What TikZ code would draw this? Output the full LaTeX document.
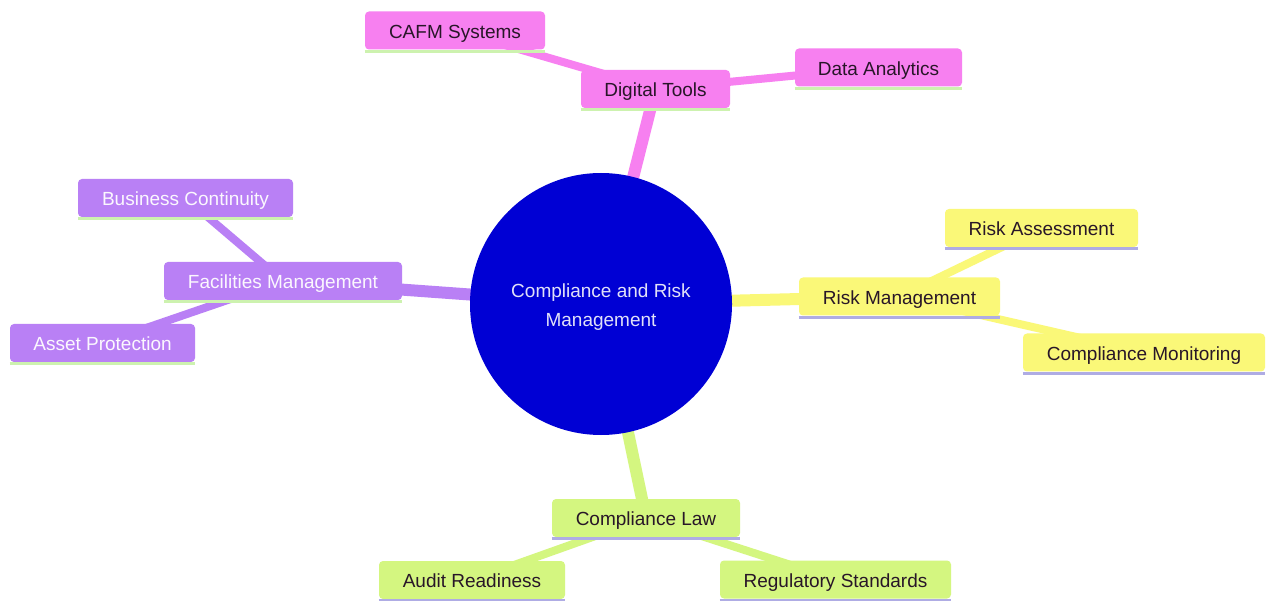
\documentclass[tikz,border=0pt]{standalone}
\usepackage{fontspec}
\setmainfont{Liberation Sans}
\usetikzlibrary{backgrounds}
\definecolor{pinkc}{RGB}{247,128,240}
\definecolor{purplec}{RGB}{185,128,245}
\definecolor{yellowc}{RGB}{250,248,120}
\definecolor{greenc}{RGB}{212,246,128}
\definecolor{lgline}{RGB}{205,242,175}
\definecolor{lavline}{RGB}{175,172,228}
\definecolor{centerc}{RGB}{0,0,212}
\definecolor{centertext}{RGB}{225,225,248}
\definecolor{darktext}{RGB}{40,22,40}
\tikzset{
  leaf/.style={rectangle, rounded corners=4pt, minimum height=38pt, inner ysep=0pt,
    text height=17.5pt, text depth=2pt,
    font=\fontsize{19pt}{22pt}\selectfont, text=darktext},
  pinkbox/.style={leaf, fill=pinkc},
  purplebox/.style={leaf, fill=purplec, text=white!94!purplec},
  yellowbox/.style={leaf, fill=yellowc},
  greenbox/.style={leaf, fill=greenc},
  mainedge/.style={line width=12pt},
  subedge/.style={line width=8pt},
}
\newcommand{\bottomline}[2]{\draw[line width=3pt, #2] ([yshift=-1.5pt]#1.south west) -- ([yshift=-1.5pt]#1.south east);}
\begin{document}
\begin{tikzpicture}[x=1pt,y=-1pt]
\useasboundingbox (0,0) rectangle (1266,601);

\node[circle, fill=centerc, minimum size=262pt, inner sep=0pt, text=centertext,
  align=center, font=\fontsize{19pt}{28.5pt}\selectfont] (root) at (601,304)
  {\rule{0pt}{20pt}Compliance and Risk\\Management};

\node[pinkbox, minimum width=149pt] (dt) at (655.5,89) {Digital Tools};
\node[pinkbox, minimum width=180pt] (cafm) at (455,30.5) {CAFM Systems};
\node[pinkbox, minimum width=167pt] (da) at (878.5,67.5) {Data Analytics};

\node[purplebox, minimum width=238pt] (fm) at (283,281) {Facilities Management};
\node[purplebox, minimum width=215pt] (bc) at (185.5,198) {Business Continuity};
\node[purplebox, minimum width=185pt] (ap) at (102.5,343) {Asset Protection};

\node[yellowbox, minimum width=201pt] (rm) at (899.5,296.5) {Risk Management};
\node[yellowbox, minimum width=193pt] (ra) at (1041.5,228) {Risk Assessment};
\node[yellowbox, minimum width=242pt] (cm) at (1144,352.5) {Compliance Monitoring};

\node[greenbox, minimum width=188pt] (cl) at (646,518) {Compliance Law};
\node[greenbox, minimum width=186pt] (ar) at (472,580) {Audit Readiness};
\node[greenbox, minimum width=231pt] (rs) at (835.5,579.5) {Regulatory Standards};

\bottomline{dt}{lgline}
\bottomline{cafm}{lgline}
\bottomline{da}{lgline}
\bottomline{fm}{lgline}
\bottomline{bc}{lgline}
\bottomline{ap}{lgline}
\bottomline{rm}{lavline}
\bottomline{ra}{lavline}
\bottomline{cm}{lavline}
\bottomline{cl}{lavline}
\bottomline{ar}{lavline}
\bottomline{rs}{lavline}

\begin{pgfonlayer}{background}
\fill[white] (0,0) rectangle (1266,601);
\draw[mainedge, pinkc] (root.center) -- (dt.center);
\draw[subedge, pinkc] (dt.center) -- (cafm.center);
\draw[subedge, pinkc] (dt.center) -- (da.center);
\draw[mainedge, purplec] (root.center) -- (fm.center);
\draw[subedge, purplec] (fm.center) -- (bc.center);
\draw[subedge, purplec] (fm.center) -- (ap.center);
\draw[mainedge, yellowc] (root.center) -- (rm.center);
\draw[subedge, yellowc] (rm.center) -- (ra.center);
\draw[subedge, yellowc] (rm.center) -- (cm.center);
\draw[mainedge, greenc] (root.center) -- (cl.center);
\draw[subedge, greenc] (cl.center) -- (ar.center);
\draw[subedge, greenc] (cl.center) -- (rs.center);
\end{pgfonlayer}
\end{tikzpicture}
\end{document}
